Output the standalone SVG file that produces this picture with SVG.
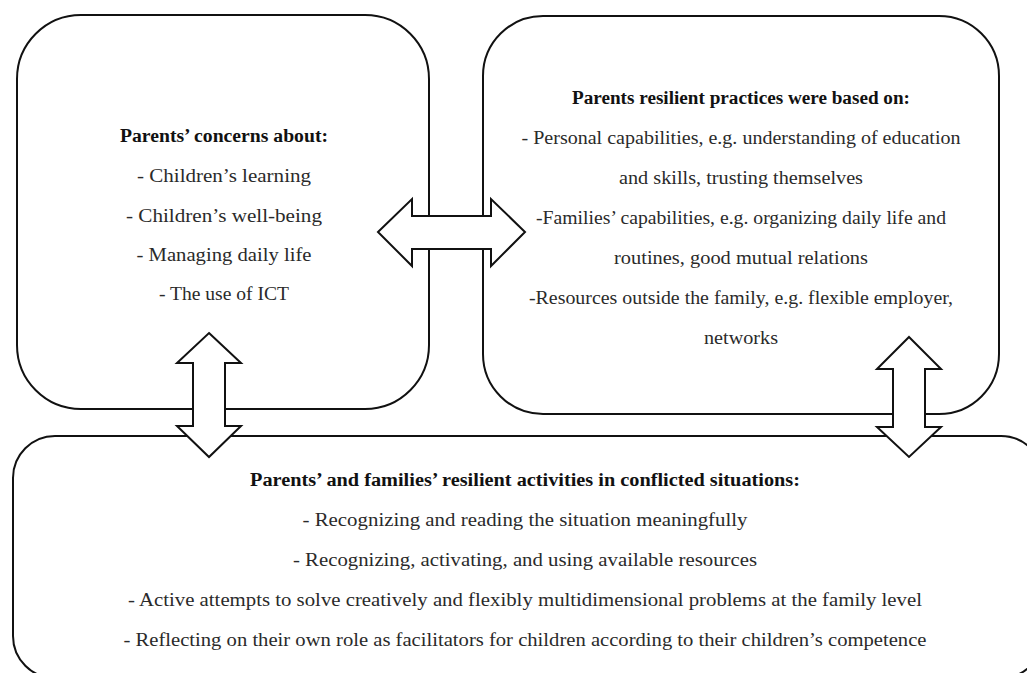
<svg xmlns="http://www.w3.org/2000/svg" width="1027" height="673" viewBox="0 0 1027 673">
<style>
.box{fill:#fff;stroke:#111;stroke-width:2}
.arr{fill:#fff;stroke:#111;stroke-width:2;stroke-linejoin:miter}
text{font-family:"Liberation Serif","Times New Roman",serif;font-size:18.5px;fill:#2a2a2a;text-anchor:middle}
.h{font-weight:bold;fill:#111}
</style>
<rect width="1027" height="673" fill="#fff"/>
<g id="node-concerns">
<rect class="box" x="17" y="15" width="412" height="394" rx="64" ry="64"/>
<text class="h" x="224" y="142" textLength="208" lengthAdjust="spacingAndGlyphs">Parents’ concerns about:</text>
<text x="224" y="182" textLength="174" lengthAdjust="spacingAndGlyphs">- Children’s learning</text>
<text x="224" y="222" textLength="196" lengthAdjust="spacingAndGlyphs">- Children’s well-being</text>
<text x="224" y="261" textLength="175" lengthAdjust="spacingAndGlyphs">- Managing daily life</text>
<text x="224" y="300" textLength="130" lengthAdjust="spacingAndGlyphs">- The use of ICT</text>
</g>
<g id="node-practices">
<rect class="box" x="483" y="16" width="516" height="398" rx="60" ry="60"/>
<text class="h" x="741" y="104" textLength="338" lengthAdjust="spacingAndGlyphs">Parents resilient practices were based on:</text>
<text x="741" y="144" textLength="439" lengthAdjust="spacingAndGlyphs">- Personal capabilities, e.g. understanding of education</text>
<text x="741" y="184" textLength="244" lengthAdjust="spacingAndGlyphs">and skills, trusting themselves</text>
<text x="741" y="224" textLength="410" lengthAdjust="spacingAndGlyphs">-Families’ capabilities, e.g. organizing daily life and</text>
<text x="741" y="264" textLength="254" lengthAdjust="spacingAndGlyphs">routines, good mutual relations</text>
<text x="741" y="304" textLength="424" lengthAdjust="spacingAndGlyphs">-Resources outside the family, e.g. flexible employer,</text>
<text x="741" y="344" textLength="74" lengthAdjust="spacingAndGlyphs">networks</text>
</g>
<g id="node-activities">
<rect class="box" x="13" y="436" width="1030" height="242" rx="42" ry="42"/>
<text class="h" x="525" y="486" textLength="550" lengthAdjust="spacingAndGlyphs">Parents’ and families’ resilient activities in conflicted situations:</text>
<text x="525" y="526" textLength="445" lengthAdjust="spacingAndGlyphs">- Recognizing and reading the situation meaningfully</text>
<text x="525" y="566" textLength="464" lengthAdjust="spacingAndGlyphs">- Recognizing, activating, and using available resources</text>
<text x="525" y="606" textLength="794" lengthAdjust="spacingAndGlyphs">- Active attempts to solve creatively and flexibly multidimensional problems at the family level</text>
<text x="525" y="646" textLength="803" lengthAdjust="spacingAndGlyphs">- Reflecting on their own role as facilitators for children according to their children’s competence</text>
</g>
<g id="connectors">
<polygon class="arr" points="378,232 412,199 412,216 491,216 491,199 525,232 491,266 491,249 412,249 412,266"/>
<polygon class="arr" points="209,333 241,363 225,363 225,426 241,426 209,457 177,426 193,426 193,363 177,363"/>
<polygon class="arr" points="909,337 941,369 925,369 925,427 941,427 909,457 877,427 893,427 893,369 877,369"/>
</g>
</svg>
